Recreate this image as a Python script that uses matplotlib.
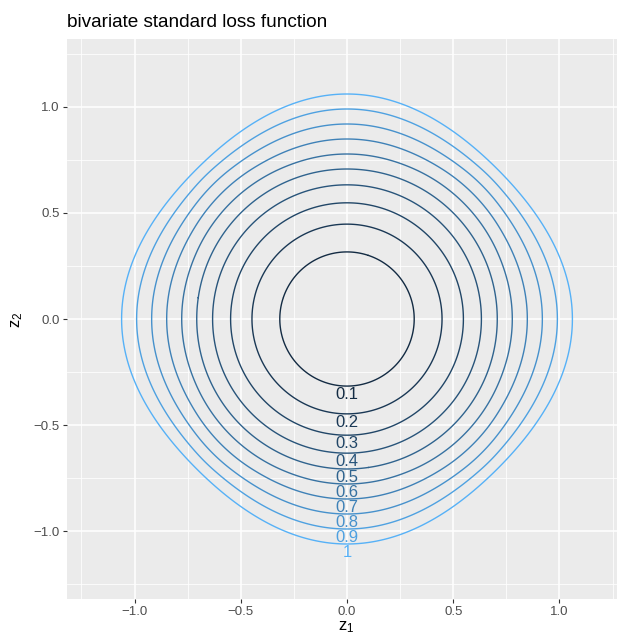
import numpy as np
import matplotlib
matplotlib.use("Agg")
import matplotlib.pyplot as plt

plt.rcParams["font.family"] = ["Liberation Sans", "DejaVu Sans"]
plt.rcParams["mathtext.fontset"] = "custom"
plt.rcParams["mathtext.rm"] = "Liberation Sans"
plt.rcParams["mathtext.it"] = "Liberation Sans"

# contour levels shown in the chart
levels = [0.1, 0.2, 0.3, 0.4, 0.5, 0.6, 0.7, 0.8, 0.9, 1.0]
level_labels = ["0.1", "0.2", "0.3", "0.4", "0.5", "0.6", "0.7", "0.8", "0.9", "1"]

# grid of the loss surface
z_min, z_max, n_grid = -1.2, 1.2, 481
delta = 1 / np.sqrt(2)   # quadratic -> linear switch point of the standard loss

x_ticks = [-1.0, -0.5, 0.0, 0.5, 1.0]
tick_labels = ["\u22121.0", "\u22120.5", "0.0", "0.5", "1.0"]
minor_ticks = [-1.25, -0.75, -0.25, 0.25, 0.75, 1.25]

low_col, high_col = "#132B43", "#56B1F7"


def standard_loss(z):
    a = np.abs(z)
    return np.where(a <= delta, z ** 2, 2 * delta * a - delta ** 2)


# colour gradient interpolated in Lab space, like ggplot's default
def hex_to_lab(h):
    rgb = np.array([int(h[i:i + 2], 16) for i in (1, 3, 5)]) / 255
    lin = np.where(rgb <= 0.04045, rgb / 12.92, ((rgb + 0.055) / 1.055) ** 2.4)
    m = np.array([[0.4124, 0.3576, 0.1805], [0.2126, 0.7152, 0.0722], [0.0193, 0.1192, 0.9505]])
    xyz = m @ lin / np.array([0.95047, 1.0, 1.08883])
    f = np.where(xyz > 0.008856, np.cbrt(xyz), 7.787 * xyz + 16 / 116)
    return np.array([116 * f[1] - 16, 500 * (f[0] - f[1]), 200 * (f[1] - f[2])])


def lab_to_rgb(lab):
    fy = (lab[0] + 16) / 116
    f = np.array([fy + lab[1] / 500, fy, fy - lab[2] / 200])
    xyz = np.where(f ** 3 > 0.008856, f ** 3, (f - 16 / 116) / 7.787) * np.array([0.95047, 1.0, 1.08883])
    m = np.array([[3.2406, -1.5372, -0.4986], [-0.9689, 1.8758, 0.0415], [0.0557, -0.2040, 1.0570]])
    lin = m @ xyz
    rgb = np.where(lin <= 0.0031308, 12.92 * lin, 1.055 * np.abs(lin) ** (1 / 2.4) - 0.055)
    return tuple(np.clip(rgb, 0, 1))


lab_lo, lab_hi = hex_to_lab(low_col), hex_to_lab(high_col)
colours = [lab_to_rgb(lab_lo + (lev - levels[0]) / (levels[-1] - levels[0]) * (lab_hi - lab_lo))
           for lev in levels]

z = np.linspace(z_min, z_max, n_grid)
Z1, Z2 = np.meshgrid(z, z)
L = standard_loss(Z1) + standard_loss(Z2)

fig = plt.figure(figsize=(6.17, 6.39), dpi=100)
W, H = 617, 639
ax = fig.add_axes([66.5 / W, 40 / H, 561 / W, 560 / H])
ax.set_facecolor("#EBEBEB")
for s in ax.spines.values():
    s.set_visible(False)

ax.set_xlim(-1.32, 1.32)
ax.set_ylim(-1.32, 1.32)
ax.set_xticks(x_ticks)
ax.set_yticks(x_ticks)
ax.set_xticks(minor_ticks, minor=True)
ax.set_yticks(minor_ticks, minor=True)
ax.set_xticklabels(tick_labels)
ax.set_yticklabels(tick_labels)
ax.grid(which="major", color="white", linewidth=1.1)
ax.grid(which="minor", color="white", linewidth=0.55)
ax.set_axisbelow(True)
ax.tick_params(which="major", length=3, width=0.8, color="#333333",
               labelsize=9.5, labelcolor="#4D4D4D", pad=2)
ax.tick_params(which="minor", length=0)

ax.contour(Z1, Z2, L, levels=levels, colors=colours, linewidths=1.0)

# labels just below where each contour crosses z1 = 0 at the bottom
i0 = np.argmin(np.abs(z))
col = L[:, i0]
half = z <= 0
for lev, lab, c in zip(levels, level_labels, colours):
    y_line = np.interp(lev, col[half][::-1], z[half][::-1])
    ax.text(0, y_line - 0.04, lab, color=c, ha="center", va="center", fontsize=12)

fig.text(67 / W, 1 - 27 / H, "bivariate standard loss function", fontsize=13.7,
         ha="left", va="baseline")
fig.text(346 / W, 1 - 627 / H, r"$z_1$", fontsize=12, ha="center", va="center")
fig.text(17 / W, 1 - 320 / H, r"$z_2$", fontsize=12, ha="center", va="center",
         rotation=90)

fig.savefig("out.png", dpi=100)
